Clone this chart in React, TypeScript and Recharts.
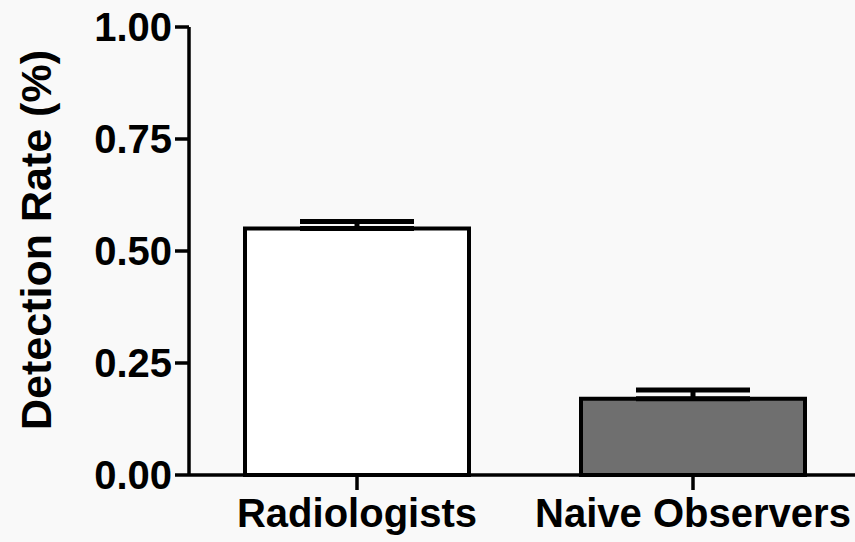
import React from "react";
import { BarChart, Bar, XAxis, YAxis, Cell, ErrorBar } from "recharts";

const groups = ["Radiologists", "Naive Observers"];
const rates = [0.55, 0.17];
const sem = [0.016, 0.02];
const fills = ["#ffffff", "#6f6f6f"];
const yTicks = [0, 0.25, 0.5, 0.75, 1];

const data = groups.map((name, i) => ({
  name,
  rate: rates[i],
  err: [0, sem[i]],
}));

const FONT = "'Liberation Sans', Arial, Helvetica, sans-serif";

const YLabel = (props: any) => {
  const vb = props.viewBox || { x: 0, y: 0, height: 0 };
  const cx = vb.x + 36;
  const cy = vb.y + vb.height / 2 - 11;
  return (
    <text
      x={cx}
      y={cy}
      transform={`rotate(-90 ${cx} ${cy})`}
      textAnchor="middle"
      dominantBaseline="central"
      fontFamily={FONT}
      fontWeight="bold"
      fontSize={43}
      fill="#000"
    >
      Detection Rate (%)
    </text>
  );
};

export default function App() {
  return (
    <div style={{ position: "absolute", left: 0, top: 0, width: 855, height: 542, background: "#f9f9f9" }}>
      <BarChart
        width={855}
        height={542}
        data={data}
        margin={{ top: 27, right: -6, bottom: 0, left: 0 }}
        barSize={224}
      >
        <YAxis
          width={189}
          domain={[0, 1]}
          ticks={yTicks}
          tickFormatter={(v: number) => v.toFixed(2)}
          axisLine={{ stroke: "#000", strokeWidth: 3.5 }}
          tickLine={{ stroke: "#000", strokeWidth: 3.5 }}
          tickSize={14}
          tickMargin={3}
          tick={{ fill: "#000", fontSize: 40, fontWeight: "bold", fontFamily: FONT }}
          label={<YLabel />}
        />
        <XAxis
          dataKey="name"
          height={67}
          axisLine={{ stroke: "#000", strokeWidth: 3.5 }}
          tickLine={{ stroke: "#000", strokeWidth: 3.5 }}
          tickSize={15}
          tickMargin={9}
          interval={0}
          tick={{ fill: "#000", fontSize: 40, fontWeight: "bold", fontFamily: FONT }}
        />
        <Bar dataKey="rate" stroke="#000" strokeWidth={4} isAnimationActive={false}>
          {data.map((d, i) => (
            <Cell key={d.name} fill={fills[i]} />
          ))}
          <ErrorBar dataKey="err" width={57} stroke="#000" strokeWidth={5} direction="y" isAnimationActive={false} />
        </Bar>
      </BarChart>
    </div>
  );
}
